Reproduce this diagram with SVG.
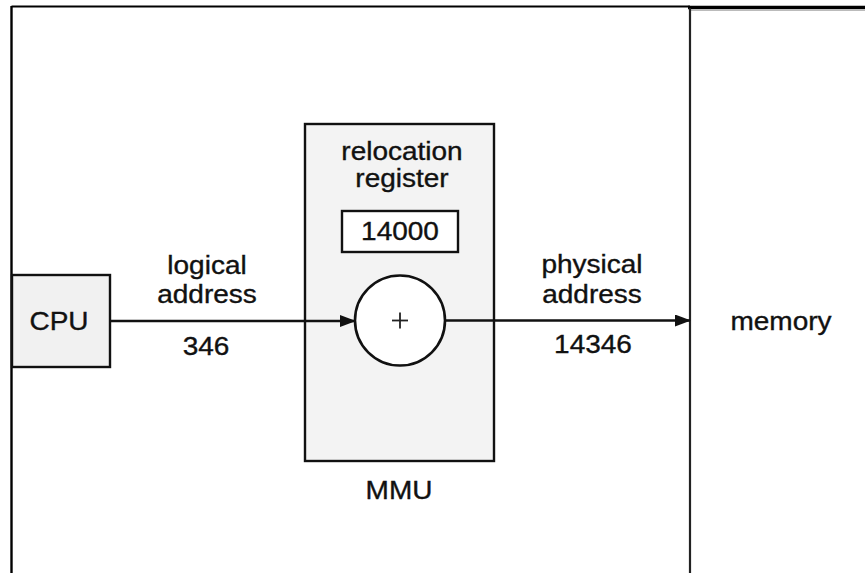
<svg xmlns="http://www.w3.org/2000/svg" width="865" height="573" viewBox="0 0 865 573">
<style>
.t{font-family:"Liberation Sans",Arial,sans-serif;font-size:25px;fill:#111;stroke:#111;stroke-width:0.35;text-anchor:middle}
.box{stroke:#111;stroke-width:2.4}
.ln{stroke:#111;stroke-width:2.6;fill:none}
</style>
<defs>
<marker id="ah" markerWidth="16" markerHeight="12" refX="15" refY="6" orient="auto" markerUnits="userSpaceOnUse">
<path d="M0,0 L16,6 L0,12 Z" fill="#111"/>
</marker>
</defs>
<rect x="0" y="0" width="865" height="573" fill="#fff"/>
<g id="frame">
<line x1="11.5" y1="6.5" x2="690" y2="6.5" stroke="#000" stroke-width="2.2"/>
<line x1="11.5" y1="6" x2="11.5" y2="573" stroke="#000" stroke-width="2.4"/>
<line x1="688" y1="7.5" x2="865" y2="7.5" stroke="#000" stroke-width="3.5"/>
<line x1="690" y1="10.5" x2="865" y2="10.5" stroke="#bbb" stroke-width="1"/>
</g>
<g id="memory">
<line x1="690" y1="8" x2="690" y2="573" stroke="#222" stroke-width="2.2"/>
<text class="t" transform="translate(781 330) scale(1.12 1)">memory</text>
</g>
<g id="cpu">
<rect class="box" x="12" y="275" width="98" height="92" fill="#f1f1f1"/>
<text class="t" transform="translate(59 330) scale(1.12 1)">CPU</text>
</g>
<g id="mmu">
<rect class="box" x="305" y="124" width="189" height="337" fill="#f3f3f3"/>
<text class="t" transform="translate(402 160) scale(1.12 1)">relocation</text>
<text class="t" transform="translate(402 187) scale(1.12 1)">register</text>
<text class="t" transform="translate(399 499) scale(1.12 1)">MMU</text>
</g>
<g id="register">
<rect class="box" x="342" y="211" width="116" height="41" fill="#fff"/>
<text class="t" transform="translate(400 240) scale(1.12 1)">14000</text>
</g>
<g id="adder">
<circle cx="400" cy="320.5" r="45" fill="#fff" stroke="#111" stroke-width="2.6"/>
<line x1="392" y1="320.5" x2="408" y2="320.5" stroke="#222" stroke-width="1.8"/>
<line x1="400" y1="312.5" x2="400" y2="328.5" stroke="#222" stroke-width="1.8"/>
</g>
<g id="connectors">
<line class="ln" x1="110" y1="321" x2="355" y2="321" marker-end="url(#ah)"/>
<line class="ln" x1="445" y1="320.5" x2="690" y2="320.5" marker-end="url(#ah)"/>
<text class="t" transform="translate(207 274) scale(1.12 1)">logical</text>
<text class="t" transform="translate(207 303) scale(1.12 1)">address</text>
<text class="t" transform="translate(206 355) scale(1.12 1)">346</text>
<text class="t" transform="translate(592 273) scale(1.12 1)">physical</text>
<text class="t" transform="translate(592 303) scale(1.12 1)">address</text>
<text class="t" transform="translate(593 353) scale(1.12 1)">14346</text>
</g>
</svg>
